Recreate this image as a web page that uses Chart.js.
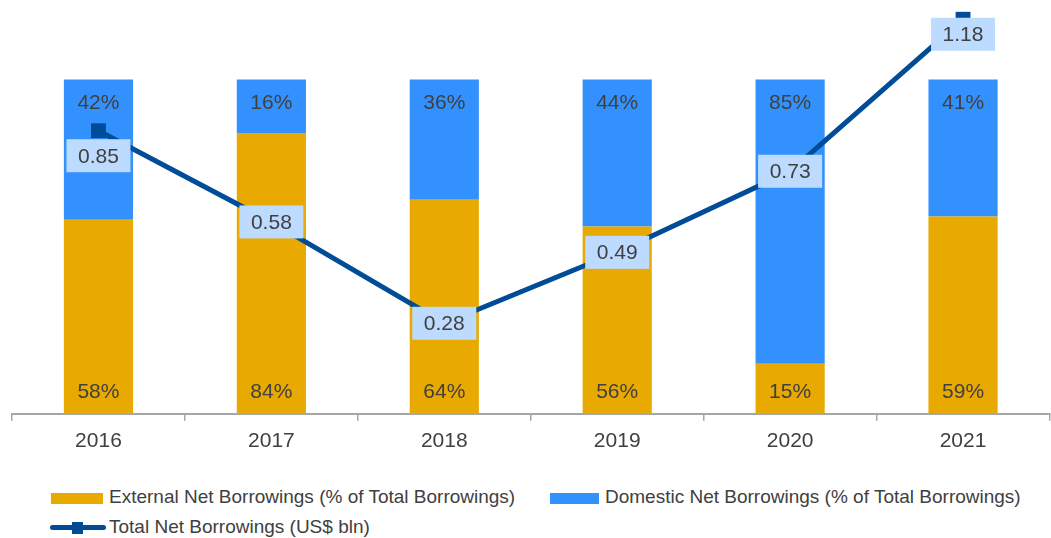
<!DOCTYPE html>
<html>
<head>
<meta charset="utf-8">
<script src="https://cdn.jsdelivr.net/npm/chart.js@4/dist/chart.umd.min.js"></script>
<style>
    html, body { margin: 0; padding: 0; background: #fff; overflow: hidden; }
    #wrap { position: relative; width: 1051px; height: 538px; overflow: hidden; font-family: "Liberation Sans", Arial, sans-serif; color: #404040; }
    #chart { position: absolute; left: 0; top: 2px; }
    .leg { position: absolute; font-size: 19px; line-height: 20px; white-space: nowrap; }
    .sw { position: absolute; }
</style>
</head>
<body>
<div id="wrap">
    <canvas id="chart" width="1060" height="460"></canvas>
    <div class="sw" style="left:51px;top:493px;width:52px;height:11px;background:#E8A900"></div>
    <div class="leg" style="left:109px;top:487px">External Net Borrowings (% of Total Borrowings)</div>
    <div class="sw" style="left:550px;top:493px;width:49px;height:11px;background:#3391FD"></div>
    <div class="leg" style="left:605px;top:487px">Domestic Net Borrowings (% of Total Borrowings)</div>
    <div class="sw" style="left:50px;top:525px;width:56px;height:5px;background:#004C97;border-radius:3px"></div>
    <div class="sw" style="left:72px;top:522px;width:11px;height:12px;background:#004C97"></div>
    <div class="leg" style="left:109px;top:517px">Total Net Borrowings (US$ bln)</div>
</div>
<script>
var years = ['2016', '2017', '2018', '2019', '2020', '2021'];
var externalPct = [58, 84, 64, 56, 15, 59];
var domesticPct = [42, 16, 36, 44, 85, 41];
var totalBln = [0.85, 0.58, 0.28, 0.49, 0.73, 1.18];

// vertical shift of the value boxes relative to their point
var boxShift = [25, 0, 0, 0, 0, 15];

var labelPlugin = {
    id: 'labels',
    afterDatasetsDraw: function (chart) {
        var ctx = chart.ctx;
        ctx.save();
        ctx.font = '21px "Liberation Sans", Arial, sans-serif';
        ctx.textAlign = 'center';
        ctx.textBaseline = 'middle';

        var ext = chart.getDatasetMeta(0).data;
        var dom = chart.getDatasetMeta(1).data;
        ext.forEach(function (bar, i) {
            ctx.fillStyle = '#404040';
            ctx.fillText(externalPct[i] + '%', bar.x, bar.base - 22);
        });
        dom.forEach(function (bar, i) {
            ctx.fillStyle = '#404040';
            ctx.fillText(domesticPct[i] + '%', bar.x, bar.y + 24);
        });

        var pts = chart.getDatasetMeta(2).data;
        pts.forEach(function (p, i) {
            var cy = p.y + boxShift[i];
            ctx.fillStyle = '#BDDBFF';
            ctx.fillRect(p.x - 32, cy - 16.5, 64, 33);
            ctx.fillStyle = '#404040';
            ctx.fillText(totalBln[i].toFixed(2), p.x, cy + 1);
        });
        ctx.restore();
    }
};

new Chart(document.getElementById('chart'), {
    type: 'bar',
    data: {
        labels: years,
        datasets: [
            {
                label: 'External Net Borrowings (% of Total Borrowings)',
                data: externalPct,
                backgroundColor: '#E8A900',
                yAxisID: 'y',
                order: 1
            },
            {
                label: 'Domestic Net Borrowings (% of Total Borrowings)',
                data: domesticPct,
                backgroundColor: '#3391FD',
                yAxisID: 'y',
                order: 1
            },
            {
                type: 'line',
                label: 'Total Net Borrowings (US$ bln)',
                data: totalBln,
                borderColor: '#004C97',
                backgroundColor: '#004C97',
                borderWidth: 5,
                pointStyle: 'rect',
                pointRadius: 10.5,
                pointBorderWidth: 0,
                yAxisID: 'y1',
                order: 0,
                clip: false
            }
        ]
    },
    options: {
        responsive: false,
        animation: false,
        events: [],
        layout: { padding: { left: 12, right: 3, top: 5, bottom: 0 } },
        datasets: {
            bar: { barPercentage: 0.4, categoryPercentage: 1 }
        },
        plugins: {
            legend: { display: false },
            tooltip: { enabled: false }
        },
        scales: {
            x: {
                stacked: true,
                grid: {
                    offset: true,
                    drawOnChartArea: false,
                    drawTicks: true,
                    tickLength: 7,
                    color: '#A6A6A6',
                    lineWidth: 1.5
                },
                border: { color: '#A6A6A6', width: 2 },
                ticks: {
                    color: '#404040',
                    font: { size: 21, family: '"Liberation Sans", Arial, sans-serif' },
                    padding: 8
                }
            },
            y: {
                stacked: true,
                display: false,
                min: 0,
                max: 120.0
            },
            y1: {
                display: false,
                min: 0.012,
                max: 1.2
            }
        }
    },
    plugins: [labelPlugin]
});
</script>
</body>
</html>
